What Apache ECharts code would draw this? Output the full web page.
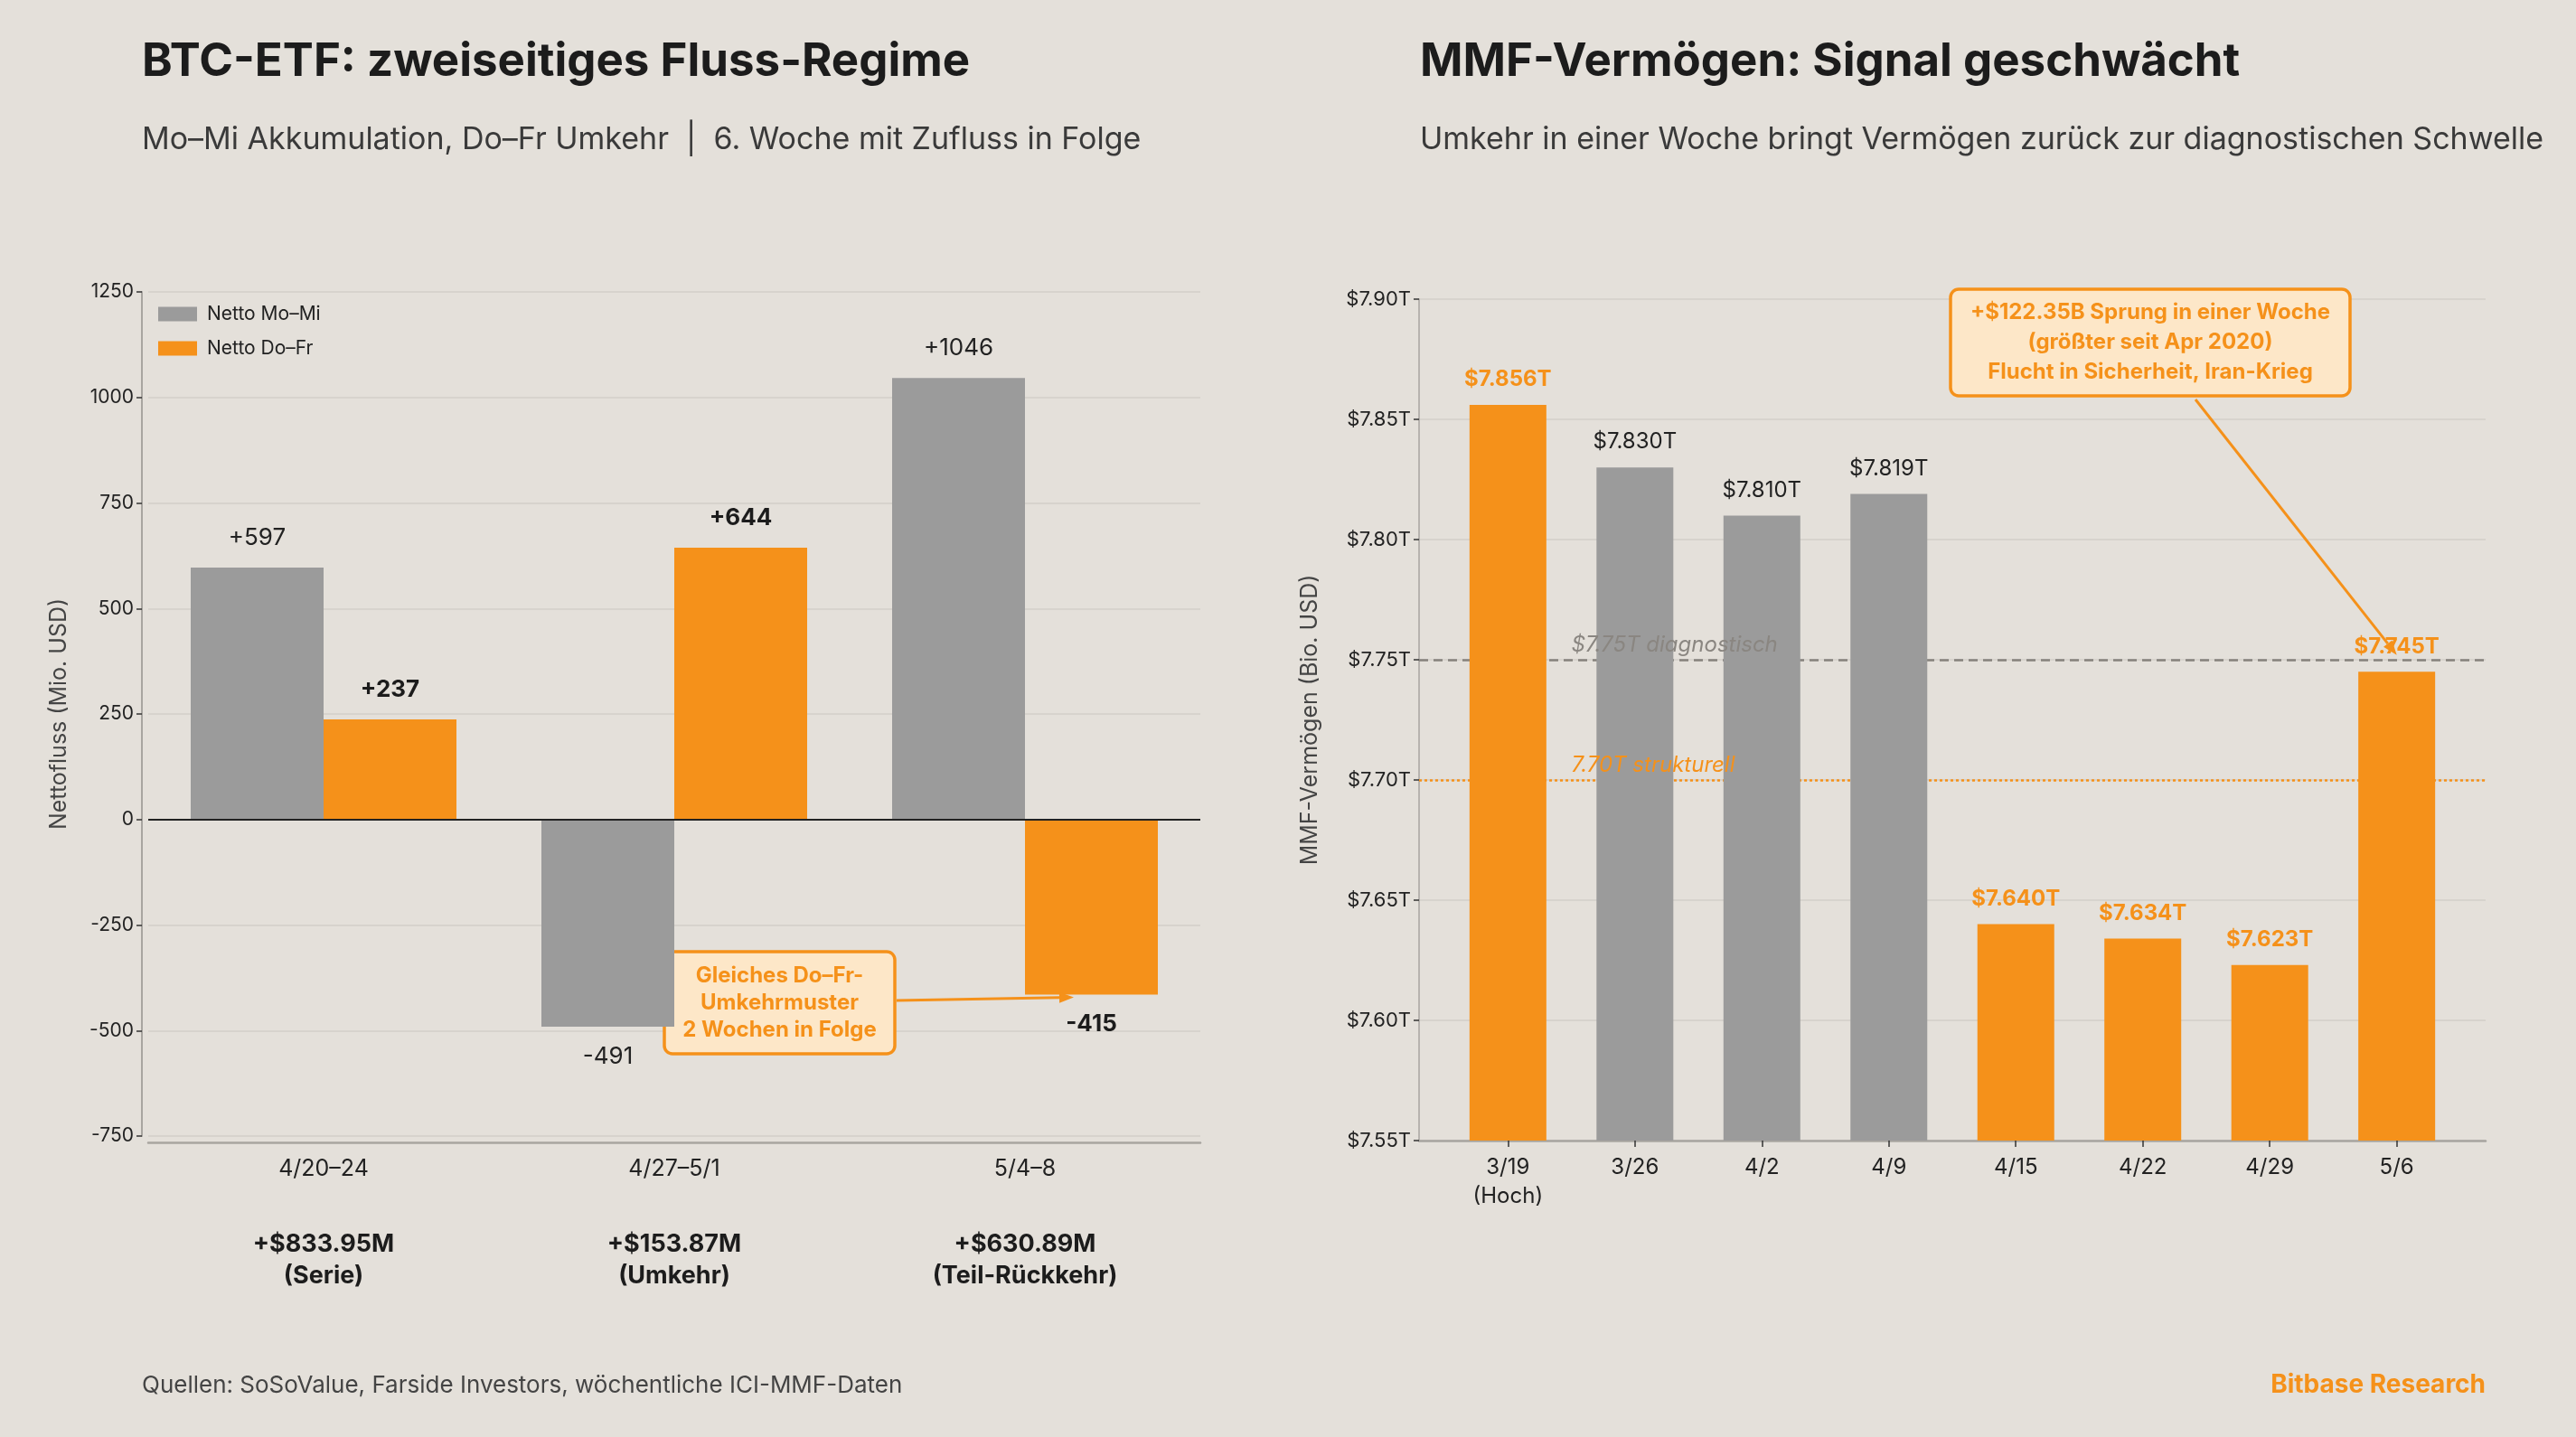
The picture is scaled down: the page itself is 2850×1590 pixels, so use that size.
<!DOCTYPE html>
<html>
<head>
<meta charset="utf-8">
<script src="https://cdn.jsdelivr.net/npm/echarts@6/dist/echarts.min.js"></script>
<style>
  html, body { margin: 0; padding: 0; background: #e4e0da; }
  #main { width: 2850px; height: 1590px; }
</style>
</head>
<body>
<div id="main"></div>
<script>
// --- data: BTC-ETF weekly split flows (Mio. USD)
const btcWeeks = ['4/20–24', '4/27–5/1', '5/4–8'];
const btcMoMi = [597, -491, 1046];
const btcDoFr = [237, 644, -415];
const btcWeekTotal = ['+$833.95M', '+$153.87M', '+$630.89M'];
const btcWeekNote = ['(Serie)', '(Umkehr)', '(Teil-Rückkehr)'];

// --- data: MMF assets (Bio. USD)
const mmfWeeks = ['3/19', '3/26', '4/2', '4/9', '4/15', '4/22', '4/29', '5/6'];
const mmfWeekNote = ['(Hoch)', '', '', '', '', '', '', ''];
const mmfAssets = [7.856, 7.830, 7.810, 7.819, 7.640, 7.634, 7.623, 7.745];
const mmfHighlight = [true, false, false, false, true, true, true, true];
const mmfDiag = 7.75;
const mmfStruct = 7.70;

const ORANGE = '#f5911a';
const GREY = '#9b9b9b';
const INK = '#1c1c1c';
const FONT = 'Inter, "Noto Sans", sans-serif';

const chart = echarts.init(document.getElementById('main'));

function signed(v) { return (v > 0 ? '+' : '') + v; }

chart.setOption({
    backgroundColor: '#e4e0da',
    textStyle: { fontFamily: FONT },
    animation: false,
    legend: {
        left: 175, top: 337, padding: 0,
        orient: 'vertical',
        itemWidth: 43, itemHeight: 16, itemGap: 17,
        icon: 'rect',
        data: ['Netto Mo–Mi', 'Netto Do–Fr'],
        textStyle: { fontSize: 21, color: '#222', padding: [0, 0, 0, 6] }
    },
    grid: [
        { left: 164, top: 323, width: 1164, height: 934 },
        { left: 1570, top: 331, width: 1180, height: 931 }
    ],
    xAxis: [
        {
            type: 'category', gridIndex: 0, data: btcWeeks,
            position: 'bottom', offset: 7,
            axisLine: { onZero: false, lineStyle: { color: '#a8a5a0', width: 2.5 } },
            axisTick: { alignWithLabel: true, length: 7, lineStyle: { color: '#333', width: 1.5 } },
            axisLabel: {
                margin: 14,
                formatter: function (v, i) {
                    return '{a|' + v + '}\n{g| }\n{b|' + btcWeekTotal[i] + '}\n{b|' + btcWeekNote[i] + '}';
                },
                rich: {
                    a: { fontSize: 25, lineHeight: 30, color: '#222' },
                    g: { fontSize: 10, lineHeight: 51 },
                    b: { fontSize: 27, lineHeight: 35, fontWeight: 'bold', color: INK }
                }
            }
        },
        {
            type: 'value', gridIndex: 1, min: -0.7, max: 7.7,
            axisLine: { onZero: false, lineStyle: { color: '#a8a5a0', width: 2.5 } },
            axisTick: { customValues: mmfWeeks.map((w, i) => i), length: 7, lineStyle: { color: '#333', width: 1.5 } },
            axisLabel: {
                customValues: mmfWeeks.map((w, i) => i),
                margin: 14, fontSize: 24, lineHeight: 32, color: '#222',
                formatter: function (v) {
                    const i = Math.round(v);
                    return mmfWeeks[i] + (mmfWeekNote[i] ? '\n' + mmfWeekNote[i] : '');
                }
            },
            splitLine: { show: false }
        }
    ],
    yAxis: [
        {
            type: 'value', gridIndex: 0, min: -750, max: 1250, interval: 250, offset: 7,
            name: 'Nettofluss (Mio. USD)', nameLocation: 'middle', nameGap: 79,
            nameTextStyle: { fontSize: 25, color: '#444' },
            axisLine: { show: true, onZero: false, lineStyle: { color: '#a8a5a0', width: 2 } },
            axisTick: { show: true, length: 6, lineStyle: { color: '#333', width: 1.5 } },
            axisLabel: { fontSize: 21, color: '#222', margin: 9, formatter: v => String(v) },
            splitLine: { lineStyle: { color: '#d3cfc9', width: 1.5 } }
        },
        {
            type: 'value', gridIndex: 1, min: 7.55, max: 7.90, interval: 0.05,
            name: 'MMF-Vermögen (Bio. USD)', nameLocation: 'middle', nameGap: 108,
            nameTextStyle: { fontSize: 25, color: '#444' },
            axisLine: { show: true, onZero: false, lineStyle: { color: '#a8a5a0', width: 1.5 } },
            axisTick: { show: true, length: 6, lineStyle: { color: '#333', width: 1.5 } },
            axisLabel: { fontSize: 22, color: '#222', margin: 9, formatter: v => '$' + v.toFixed(2) + 'T' },
            splitLine: { lineStyle: { color: '#d3cfc9', width: 1.5 } }
        }
    ],
    series: [
        {
            name: 'Netto Mo–Mi', type: 'bar', xAxisIndex: 0, yAxisIndex: 0,
            barWidth: 147, barGap: '0%', itemStyle: { color: GREY },
            data: btcMoMi.map(v => ({
                value: v,
                label: { show: true, position: v >= 0 ? 'top' : 'bottom', distance: 20,
                    formatter: signed(v), fontSize: 26, color: '#222' }
            })),
            markLine: {
                silent: true, symbol: 'none', z: 5, label: { show: false },
                lineStyle: { color: '#222', width: 2, type: 'solid' },
                data: [{ yAxis: 0 }]
            }
        },
        {
            name: 'Netto Do–Fr', type: 'bar', xAxisIndex: 0, yAxisIndex: 0,
            barWidth: 147, barGap: '0%', itemStyle: { color: ORANGE },
            data: btcDoFr.map(v => ({
                value: v,
                label: { show: true, position: v >= 0 ? 'top' : 'bottom', distance: 20,
                    formatter: signed(v), fontSize: 26, fontWeight: 'bold', color: INK }
            }))
        },
        {
            name: 'MMF', type: 'bar', xAxisIndex: 1, yAxisIndex: 1, z: 3,
            barWidth: 85,
            data: mmfAssets.map((v, i) => ({
                value: [i, v],
                itemStyle: { color: mmfHighlight[i] ? ORANGE : GREY },
                label: {
                    show: true, position: 'top', distance: 16,
                    formatter: '$' + v.toFixed(3) + 'T', fontSize: 24,
                    fontWeight: mmfHighlight[i] ? 'bold' : 'normal',
                    color: mmfHighlight[i] ? ORANGE : '#222'
                }
            }))
        },
        {
            name: 'thresholds', type: 'line', xAxisIndex: 1, yAxisIndex: 1, z: 1,
            data: mmfAssets.map((v, i) => [i, v]),
            showSymbol: false, lineStyle: { opacity: 0 }, silent: true,
            markLine: {
                silent: true, symbol: 'none', z: 1, label: { show: false },
                data: [
                    { yAxis: mmfDiag, lineStyle: { color: '#85817c', width: 2.5, type: [10, 6] } },
                    { yAxis: mmfStruct, lineStyle: { color: ORANGE, width: 2.5, type: [3, 3] } }
                ]
            }
        }
    ]
});

// --- annotations (anchored to data where they point at a mark)
function arrow(p0, p1, color) {
    const dx = p1[0] - p0[0], dy = p1[1] - p0[1];
    const len = Math.sqrt(dx * dx + dy * dy);
    const ux = dx / len, uy = dy / len, head = 16, w = 6;
    const bx = p1[0] - ux * head, by = p1[1] - uy * head;
    return [
        { type: 'line', z: 20, shape: { x1: p0[0], y1: p0[1], x2: bx, y2: by },
          style: { stroke: color, lineWidth: 3 } },
        { type: 'polygon', z: 20,
          shape: { points: [p1, [bx - uy * w, by + ux * w], [bx + uy * w, by - ux * w]] },
          style: { fill: color } }
    ];
}

function noteBox(x, y, w, h, lines, lh) {
    return {
        type: 'group', z: 21, children: [
            { type: 'rect', shape: { x: x, y: y, width: w, height: h, r: 9 },
              style: { fill: '#fde7c8', stroke: ORANGE, lineWidth: 3.5 } },
            { type: 'text', style: { x: x + w / 2, y: y + h / 2, text: lines.join('\n'),
              font: 'bold 24px ' + FONT, fill: ORANGE, align: 'center', verticalAlign: 'middle',
              lineHeight: lh } }
        ]
    };
}

const tipLeft = chart.convertToPixel({ xAxisIndex: 0, yAxisIndex: 0 }, [2, btcDoFr[2]]);
const tipRight = chart.convertToPixel({ xAxisIndex: 1, yAxisIndex: 1 }, [7, 7.752]);
const xMid = chart.convertToPixel({ xAxisIndex: 1, yAxisIndex: 1 }, [0.5, mmfDiag]);
const yStruct = chart.convertToPixel({ xAxisIndex: 1, yAxisIndex: 1 }, [0.5, mmfStruct]);

const graphics = [];
graphics.push(...arrow([992, 1107], [tipLeft[0] + 54, tipLeft[1] + 3], ORANGE));
graphics.push(noteBox(735, 1053, 255, 113, ['Gleiches Do–Fr-', 'Umkehrmuster', '2 Wochen in Folge'], 30));
graphics.push(...arrow([2429, 442], tipRight, ORANGE));
graphics.push(noteBox(2158, 320, 442, 118, ['+$122.35B Sprung in einer Woche', '(größter seit Apr 2020)', 'Flucht in Sicherheit, Iran-Krieg'], 33));

graphics.push({ type: 'text', z: 15, style: { x: xMid[0], y: xMid[1] - 16, text: '$7.75T diagnostisch',
    font: 'italic 24px ' + FONT, fill: '#8a8681', verticalAlign: 'middle' } });
graphics.push({ type: 'text', z: 15, style: { x: yStruct[0], y: yStruct[1] - 16, text: '7.70T strukturell',
    font: 'italic 24px ' + FONT, fill: ORANGE, verticalAlign: 'middle' } });

// titles, subtitles, footer
graphics.push({ type: 'text', style: { x: 157, y: 69, text: 'BTC-ETF: zweiseitiges Fluss-Regime',
    font: 'bold 51px ' + FONT, fill: INK, verticalAlign: 'middle' } });
graphics.push({ type: 'text', style: { x: 157, y: 155, text: 'Mo–Mi Akkumulation, Do–Fr Umkehr  |  6. Woche mit Zufluss in Folge',
    font: '34px ' + FONT, fill: '#3a3a3a', verticalAlign: 'middle' } });
graphics.push({ type: 'text', style: { x: 1571, y: 69, text: 'MMF-Vermögen: Signal geschwächt',
    font: 'bold 51px ' + FONT, fill: INK, verticalAlign: 'middle' } });
graphics.push({ type: 'text', style: { x: 1571, y: 155, text: 'Umkehr in einer Woche bringt Vermögen zurück zur diagnostischen Schwelle',
    font: '34px ' + FONT, fill: '#3a3a3a', verticalAlign: 'middle' } });
graphics.push({ type: 'text', style: { x: 157, y: 1533, text: 'Quellen: SoSoValue, Farside Investors, wöchentliche ICI-MMF-Daten',
    font: '26px ' + FONT, fill: '#444', verticalAlign: 'middle' } });
graphics.push({ type: 'text', style: { x: 2750, y: 1533, text: 'Bitbase Research',
    font: 'bold 28px ' + FONT, fill: ORANGE, align: 'right', verticalAlign: 'middle' } });

chart.setOption({ graphic: graphics });
</script>
</body>
</html>
